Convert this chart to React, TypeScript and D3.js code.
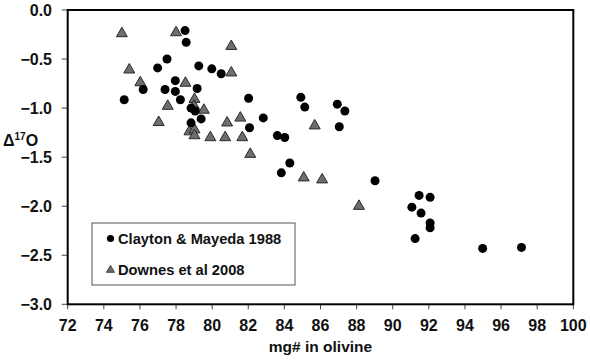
import React from "react";
import * as d3 from "d3";

const claytonX = [75.13, 78.5, 78.56, 77.5, 76.98, 79.26, 79.98, 80.5, 77.96, 76.18, 77.39, 77.96, 79.17, 78.24, 82.02, 78.83, 79.06, 79.39, 78.83, 82.83, 82.07, 83.61, 84.02, 84.3, 83.83, 84.91, 85.13, 86.93, 87.35, 87.04, 89.02, 91.46, 92.07, 91.06, 91.57, 92.07, 92.07, 91.24, 94.98, 97.13];
const claytonY = [-0.915, -0.21, -0.33, -0.5, -0.59, -0.57, -0.6, -0.65, -0.72, -0.81, -0.81, -0.83, -0.8, -0.915, -0.9, -1.0, -1.03, -1.11, -1.15, -1.1, -1.2, -1.28, -1.3, -1.56, -1.66, -0.89, -0.99, -0.96, -1.03, -1.19, -1.74, -1.89, -1.91, -2.01, -2.07, -2.17, -2.22, -2.33, -2.43, -2.42];

const downesX = [75.0, 78.0, 81.06, 75.41, 81.06, 76.02, 78.52, 79.02, 77.54, 79.0, 79.54, 77.04, 80.83, 81.56, 78.74, 79.02, 79.02, 79.9, 80.72, 81.67, 82.11, 85.68, 85.07, 86.09, 88.13];
const downesY = [-0.24, -0.23, -0.37, -0.61, -0.64, -0.74, -0.745, -0.91, -0.98, -0.98, -1.02, -1.145, -1.15, -1.1, -1.24, -1.22, -1.28, -1.3, -1.3, -1.3, -1.47, -1.18, -1.71, -1.73, -2.0];

const xTicks = [72, 74, 76, 78, 80, 82, 84, 86, 88, 90, 92, 94, 96, 98, 100];
const yTicks = [0, -0.5, -1.0, -1.5, -2.0, -2.5, -3.0];

const seriesNames = ["Clayton & Mayeda 1988", "Downes et al 2008"];
const xTitle = "mg# in olivine";

const W = 590;
const H = 360;
const FONT = "'Liberation Sans', Arial, sans-serif";

export default function App() {
  const x = d3.scaleLinear().domain([72, 100]).range([67.7, 573.3]);
  const y = d3.scaleLinear().domain([-3, 0]).range([304.3, 10]);
  const tri = d3.symbol().type(d3.symbolTriangle).size(52)();
  const triSmall = d3.symbol().type(d3.symbolTriangle).size(28)();

  return (
    <svg width={W} height={H} style={{ position: "absolute", left: 0, top: 0, background: "#fff" }} fontFamily={FONT} fontWeight="bold">
      <rect x={0} y={0} width={W} height={H} fill="#fff" />
      {yTicks.map((t) => (
        <g key={"y" + t}>
          <line x1={x(72) - 6} x2={x(72)} y1={y(t)} y2={y(t)} stroke="#444" strokeWidth={1} />
          <text x={52} y={y(t)} dy="0.36em" textAnchor="end" fontSize={16} fill="#111">
            {d3.format(".1f")(t)}
          </text>
        </g>
      ))}
      {xTicks.map((t) => (
        <g key={"x" + t}>
          <line x1={x(t)} x2={x(t)} y1={y(-3)} y2={y(-3) + 5} stroke="#444" strokeWidth={1} />
          <text x={x(t)} y={331} textAnchor="middle" fontSize={16} fill="#111">
            {t}
          </text>
        </g>
      ))}
      <rect x={x(72)} y={y(0)} width={x(100) - x(72)} height={y(-3) - y(0)} fill="none" stroke="#000" strokeWidth={2} />
      <text x={(x(72) + x(100)) / 2} y={352} textAnchor="middle" fontSize={15.5} fill="#111">
        {xTitle}
      </text>
      <text x={3} y={146} fontSize={16} fill="#111">
        Δ<tspan fontSize={10} dy={-6}>17</tspan>
        <tspan dy={6}>O</tspan>
      </text>
      {downesX.map((v, i) => (
        <path key={"d" + i} d={tri} transform={`translate(${x(v)},${y(downesY[i])})`} fill="#6e6e6e" stroke="#2a2a2a" strokeWidth={1} />
      ))}
      {claytonX.map((v, i) => (
        <circle key={"c" + i} cx={x(v)} cy={y(claytonY[i])} r={4.5} fill="#000" />
      ))}
      <rect x={92} y={223} width={203} height={62} fill="#fff" stroke="#555" strokeWidth={1} />
      <circle cx={110.5} cy={238.5} r={3.6} fill="#000" />
      <text x={118} y={244} fontSize={14.7} fill="#111">{seriesNames[0]}</text>
      <path d={triSmall} transform="translate(110.5,270)" fill="#6e6e6e" stroke="#2a2a2a" strokeWidth={0.8} />
      <text x={118} y={275} fontSize={14.7} fill="#111">{seriesNames[1]}</text>
    </svg>
  );
}
